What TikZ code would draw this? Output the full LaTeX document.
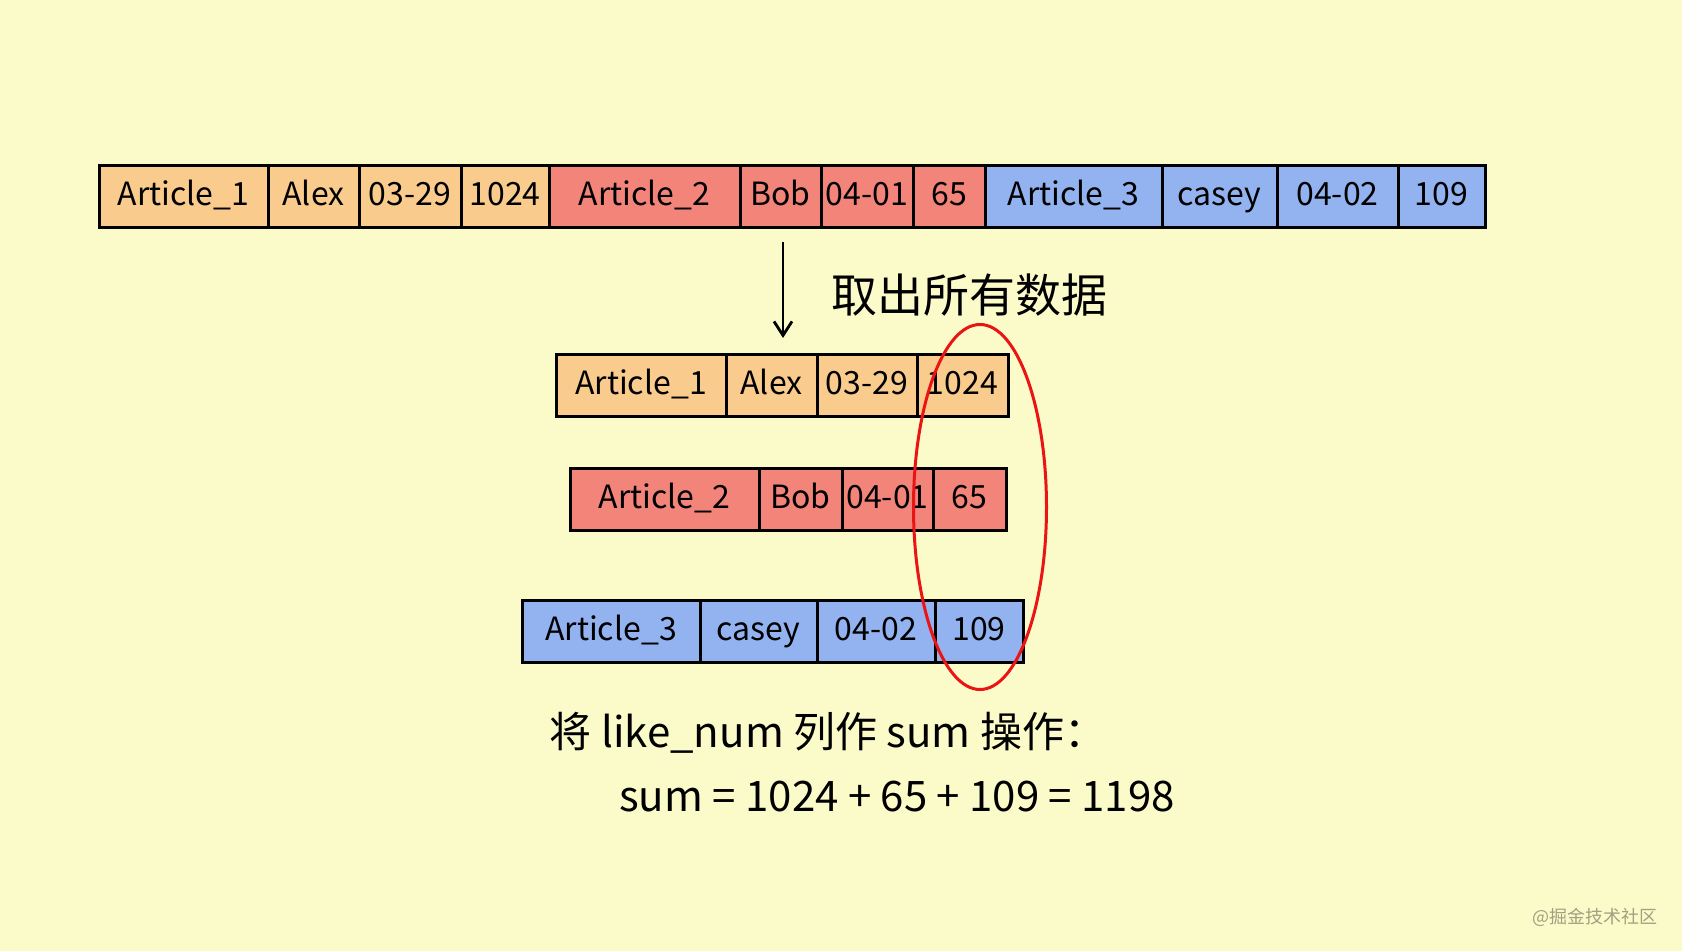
\documentclass[tikz,border=0pt]{standalone}
\usepackage{fontspec}
\usepackage{xcolor}
\usepackage{tikz}
\usetikzlibrary{shapes.geometric, arrows.meta, positioning}
\newfontfamily\cjk{Noto Sans CJK SC}
\definecolor{paper}{RGB}{251,251,201}
\definecolor{cellorange}{RGB}{249,204,142}
\definecolor{cellred}{RGB}{242,132,122}
\definecolor{cellblue}{RGB}{146,178,240}
\definecolor{ringred}{RGB}{235,20,20}
\definecolor{markgray}{RGB}{160,160,130}

\begin{document}
\begin{tikzpicture}[
    x=0.5pt, y=-0.5pt,
    font=\cjk\fontsize{16}{19}\selectfont,
    cell/.style={rectangle, draw=black, line width=1.5pt, outer sep=0pt, inner sep=0pt, minimum height=31pt, text height=12pt, text depth=3pt, text=black},
    orangecell/.style={cell, fill=cellorange},
    redcell/.style={cell, fill=cellred},
    bluecell/.style={cell, fill=cellblue},
    arrow/.style={-{Straight Barb[length=7pt, width=9pt]}, line width=1.4pt, black},
    note/.style={font=\cjk\fontsize{21}{25}\selectfont, text=black}
]
\fill[paper] (0,0) rectangle (1682,951);
\useasboundingbox (0,0) rectangle (1682,951);

% Full table
\node[orangecell, minimum width=84.5pt, anchor=west] (topart1) at (99,197) {Article\_1};
\node[orangecell, minimum width=45.5pt, right=0pt of topart1] (topalex) {Alex};
\node[orangecell, minimum width=51pt, right=0pt of topalex] (topdate1) {03-29};
\node[orangecell, minimum width=44pt, right=0pt of topdate1] (toplike1) {1024};
\node[redcell, minimum width=95.5pt, right=0pt of toplike1] (topart2) {Article\_2};
\node[redcell, minimum width=40.5pt, right=0pt of topart2] (topbob) {Bob};
\node[redcell, minimum width=46pt, right=0pt of topbob] (topdate2) {04-01};
\node[redcell, minimum width=36pt, right=0pt of topdate2] (toplike2) {65};
\node[bluecell, minimum width=88.5pt, right=0pt of toplike2] (topart3) {Article\_3};
\node[bluecell, minimum width=57.5pt, right=0pt of topart3] (topcasey) {casey};
\node[bluecell, minimum width=60.5pt, right=0pt of topcasey] (topdate3) {04-02};
\node[bluecell, minimum width=43.5pt, right=0pt of topdate3] (toplike3) {109};

% Rows taken out
\node[orangecell, minimum width=85pt, anchor=west] (oneart) at (556,385.5) {Article\_1};
\node[orangecell, minimum width=45.5pt, right=0pt of oneart] (onename) {Alex};
\node[orangecell, minimum width=50pt, right=0pt of onename] (onedate) {03-29};
\node[orangecell, minimum width=45.5pt, right=0pt of onedate] (onelike) {1024};

\node[redcell, minimum width=94.5pt, anchor=west] (twoart) at (570,500) {Article\_2};
\node[redcell, minimum width=41.5pt, right=0pt of twoart] (twoname) {Bob};
\node[redcell, minimum width=45.5pt, right=0pt of twoname] (twodate) {04-01};
\node[redcell, minimum width=36.5pt, right=0pt of twodate] (twolike) {65};

\node[bluecell, minimum width=89pt, anchor=west] (threeart) at (522,631.5) {Article\_3};
\node[bluecell, minimum width=58.5pt, right=0pt of threeart] (threename) {casey};
\node[bluecell, minimum width=59pt, right=0pt of threename] (threedate) {04-02};
\node[bluecell, minimum width=44pt, right=0pt of threedate] (threelike) {109};

% like_num column
\node[ellipse, draw=ringred, line width=1.5pt, minimum width=66.5pt, minimum height=182.5pt] (pick) at (980,507) {};

% Arrow and labels
\coordinate (arrowstart) at (783,242);
\coordinate (arrowend) at (783,338);
\draw[arrow] (arrowstart) -- (arrowend);
\node[note, font=\cjk\fontsize{23}{26}\selectfont] (fetch) at (969,295) {取出所有数据};
\node[note] (sumop) at (828,733) {将 like\_num 列作 sum 操作：};
\node[note] (sumres) at (897,797) {sum = 1024 + 65 + 109 = 1198};

\node[font=\cjk\fontsize{9}{11}\selectfont, text=markgray] (mark) at (1595,917) {@掘金技术社区};
\end{tikzpicture}
\end{document}
